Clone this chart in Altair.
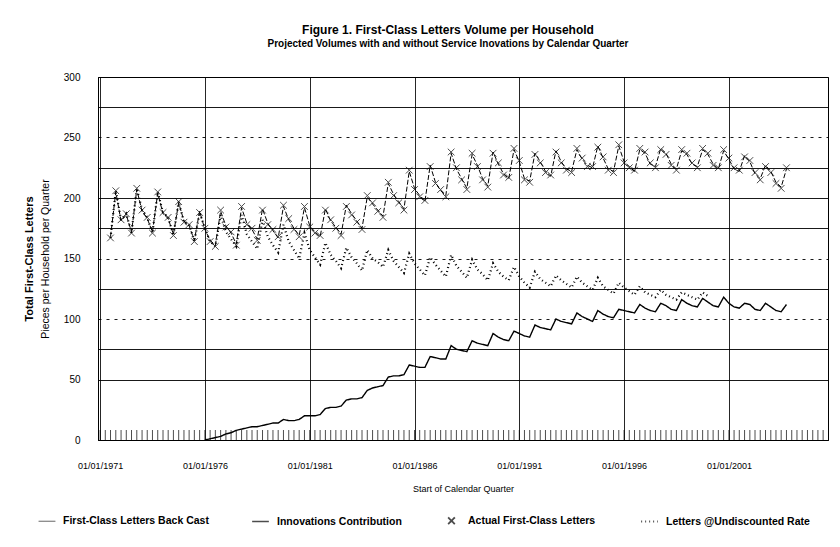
import altair as alt
import pandas as pd

# ---------------- data (quarterly) ----------------
# Actual First-Class Letters, 1971Q3 .. 2003Q4  (one line per calendar year)
actual_start = "1971-07-01"
actual = [
    167, 206,
    182, 187, 171, 208,
    190, 184, 171, 205,
    188, 184, 169, 197,
    180, 178, 164, 188,
    175, 164, 160, 190,
    176, 172, 161, 193,
    178, 175, 165, 190,
    178, 174, 168, 194,
    183, 174, 168, 193,
    176, 171, 169, 190,
    182, 175, 169, 193,
    186, 180, 174, 202,
    196, 189, 184, 213,
    202, 196, 190, 223,
    207, 201, 198, 226,
    212, 207, 201, 238,
    225, 215, 207, 237,
    226, 215, 209, 237,
    229, 219, 217, 241,
    231, 215, 213, 236,
    229, 221, 219, 238,
    229, 223, 221, 241,
    233, 226, 226, 242,
    234, 223, 221, 244,
    229, 225, 223, 241,
    238, 229, 225, 240,
    236, 227, 223, 240,
    237, 229, 225, 241,
    237, 227, 225, 240,
    233, 225, 223, 234,
    231, 221, 215, 226,
    221, 212, 208, 225,
]
# First-Class Letters Back Cast, 1971Q3 .. 2003Q4
backcast_start = "1971-07-01"
backcast = [
    168, 205,
    181, 186, 172, 207,
    189, 183, 172, 204,
    187, 183, 170, 196,
    181, 177, 165, 189,
    174, 165, 161, 189,
    177, 171, 162, 192,
    179, 174, 166, 191,
    179, 173, 167, 193,
    182, 175, 169, 192,
    177, 172, 168, 191,
    181, 176, 170, 194,
    187, 181, 175, 201,
    195, 190, 185, 212,
    203, 197, 191, 222,
    208, 202, 197, 227,
    213, 206, 202, 237,
    224, 216, 208, 236,
    227, 216, 210, 238,
    228, 220, 216, 240,
    230, 216, 214, 237,
    230, 222, 218, 239,
    230, 224, 222, 240,
    232, 227, 225, 243,
    233, 224, 222, 243,
    230, 226, 222, 240,
    237, 228, 226, 241,
    237, 228, 224, 239,
    236, 228, 226, 240,
    236, 228, 224, 239,
    232, 224, 222, 235,
    230, 220, 216, 227,
    222, 213, 209, 224,
]
# Letters @Undiscounted Rate, 1971Q3 .. 2000Q1
undisc_start = "1971-07-01"
undisc = [
    167, 206,
    182, 187, 171, 208,
    190, 184, 171, 205,
    188, 184, 169, 197,
    180, 178, 164, 188,
    175, 164, 160, 186,
    172, 166, 160, 186,
    170, 164, 158, 182,
    168, 161, 155, 178,
    164, 157, 150, 171,
    157, 151, 145, 163,
    153, 148, 142, 159,
    151, 146, 140, 157,
    150, 147, 143, 157,
    148, 143, 138, 154,
    146, 141, 136, 151,
    145, 140, 135, 153,
    144, 139, 134, 149,
    141, 137, 132, 146,
    139, 135, 132, 143,
    135, 130, 126, 139,
    133, 130, 127, 136,
    132, 129, 126, 135,
    130, 127, 124, 134,
    127, 124, 121, 130,
    126, 123, 120, 127,
    122, 120, 118, 124,
    120, 118, 116, 122,
    120, 118, 116, 122,
    119,
]
# Innovations Contribution, 1976Q1 .. 2003Q4
innov_start = "1976-01-01"
innov = [
    0, 1, 2, 3,
    5, 6, 8, 9,
    10, 11, 11, 12,
    13, 14, 14, 17,
    16, 16, 17, 20,
    20, 20, 21, 26,
    27, 27, 28, 33,
    34, 34, 35, 41,
    43, 44, 45, 52,
    53, 53, 54, 62,
    61, 60, 60, 69,
    68, 67, 67, 78,
    75, 74, 73, 82,
    80, 79, 78, 88,
    85, 83, 82, 90,
    88, 86, 85, 95,
    93, 92, 91, 100,
    98, 97, 96, 105,
    102, 100, 98, 107,
    104, 102, 101, 108,
    107, 106, 105, 112,
    109, 107, 106, 113,
    111, 108, 107, 116,
    113, 111, 110, 117,
    114, 111, 110, 118,
    113, 110, 109, 113,
    112, 108, 107, 113,
    110, 107, 106, 112,
]

series_names = [
    "First-Class Letters Back Cast",
    "Innovations Contribution",
    "Actual First-Class Letters",
    "Letters @Undiscounted Rate",
]
x_label_years = [1971, 1976, 1981, 1986, 1991, 1996, 2001]
y_grid_values = [0, 25, 50, 75, 100, 125, 150, 175, 200, 225, 250, 275, 300]
tick_first_quarter = "1971-01-01"
tick_quarter_count = 139

title_text = "Figure 1. First-Class Letters Volume per Household"
subtitle_text = "Projected Volumes with and without Service Inovations by Calendar Quarter"
x_title = "Start of Calendar Quarter"
y_title_bold = "Total First-Class Letters"
y_title_plain = "Pieces per Household per Quarter"


def quarters(start, n):
    return list(pd.date_range(start, periods=n, freq="QS").strftime("%Y-%m-%d"))


def frame(start, values, name):
    return pd.DataFrame({"date": quarters(start, len(values)), "value": values, "series": name})


df_back = frame(backcast_start, backcast, series_names[0])
df_lines = pd.concat([frame(innov_start, innov, series_names[1]),
                      frame(undisc_start, undisc, series_names[3])], ignore_index=True)
df_actual = frame(actual_start, actual, series_names[2])
df_ticks = pd.DataFrame({"date": quarters(tick_first_quarter, tick_quarter_count)})

FONT = "Liberation Sans"
XPATH = "M-0.4,-0.4L0.4,0.4M-0.4,0.4L0.4,-0.4"

x_scale = alt.Scale(
    type="utc",
    domain=[alt.DateTime(year=1970, month=11, date=25, utc=True),
            alt.DateTime(year=2005, month=9, date=24, utc=True)],
)
y_scale = alt.Scale(domain=[0, 300], nice=False, zero=True)

x_axis = alt.Axis(
    values=[alt.DateTime(year=y, month=1, date=1, utc=True) for y in x_label_years],
    labelExpr="utcFormat(datum.value, '%m/%d/%Y')",
    ticks=False, labelPadding=21, labelFontSize=9, labelFont=FONT,
    grid=True, gridColor="black", gridWidth=1, gridOpacity=0.85,
    domainColor="black", title=x_title, titleFont=FONT, titleFontSize=9,
    titleFontWeight="normal", titlePadding=14,
)

y_axis_main = alt.Axis(
    values=y_grid_values,
    labelExpr="datum.value % 50 == 0 ? datum.label : ''",
    ticks=False, labelPadding=18, labelFontSize=10, labelFont=FONT,
    grid=True, gridColor="black", gridWidth=1,
    gridDash={"condition": {"test": "datum.value == 100 || datum.value == 150 || datum.value == 250",
                            "value": [3, 5]}, "value": []},
    gridOpacity={"condition": {"test": "datum.value == 25", "value": 0}, "value": 0.9},
    domainColor="black", title=y_title_plain, titleFont=FONT, titleFontSize=10.5,
    titleFontWeight="normal", titlePadding=13,
)

y_axis_bold = alt.Axis(
    orient="left", labels=False, ticks=False, domain=False, grid=False,
    title=y_title_bold, titleFont=FONT, titleFontSize=11, titleFontWeight="bold",
    titlePadding=64,
)

back_layer = alt.Chart(df_back).mark_line(
    color="black", strokeWidth=1, strokeDash=[5, 2]
).encode(
    x=alt.X("date:T", scale=x_scale, axis=x_axis),
    y=alt.Y("value:Q", scale=y_scale, axis=y_axis_main),
)

lines_layer = alt.Chart(df_lines).mark_line(color="black").encode(
    x=alt.X("date:T", scale=x_scale),
    y=alt.Y("value:Q", scale=y_scale, axis=None),
    strokeDash=alt.StrokeDash(
        "series:N",
        scale=alt.Scale(domain=series_names, range=[[1, 0], [1, 0], [1, 0], [1, 3]]),
        legend=alt.Legend(title=None),
    ),
    strokeWidth=alt.StrokeWidth(
        "series:N", scale=alt.Scale(domain=series_names, range=[1, 2.2, 1, 0.8]), legend=None
    ),
)

points_layer = alt.Chart(df_actual).mark_point(
    color="black", strokeWidth=1, size=280, filled=False
).encode(
    x=alt.X("date:T", scale=x_scale),
    y=alt.Y("value:Q", scale=y_scale, axis=None),
    shape=alt.Shape(
        "series:N",
        scale=alt.Scale(domain=series_names, range=["stroke", "stroke", XPATH, "stroke"]),
        legend=alt.Legend(title=None),
    ),
)

ticks_layer = alt.Chart(df_ticks).mark_tick(
    color="black", orient="vertical", size=10, thickness=1, yOffset=-5
).encode(
    x=alt.X("date:T", scale=x_scale),
    y=alt.Y(datum=0, type="quantitative", scale=y_scale, axis=y_axis_bold),
)

chart = alt.layer(back_layer, lines_layer, points_layer, ticks_layer).resolve_axis(
    y="independent"
).properties(
    width=730,
    height=363,
    autosize=alt.AutoSizeParams(type="none"),
    padding={"left": 98, "top": 77, "right": 12, "bottom": 107},
    title=alt.TitleParams(
        text=title_text, subtitle=subtitle_text, anchor="middle", frame="group",
        font=FONT, fontSize=12, fontWeight="bold", color="black",
        subtitleFont=FONT, subtitleFontSize=10, subtitleFontWeight="bold",
        subtitleColor="black", subtitlePadding=2, offset=22, dx=-15,
    ),
).configure_view(
    stroke="black", strokeWidth=1
).configure_axis(
    labelColor="black", titleColor="black"
).configure_legend(
    orient="none", legendX=-60, legendY=434, direction="horizontal",
    labelFont=FONT, labelFontSize=10.5, labelFontWeight="bold", labelColor="black",
    symbolStrokeColor="black", symbolFillColor="transparent", symbolSize=280,
    symbolStrokeWidth=1, columnPadding=40, labelOffset=7,
)

chart.save("out.html", embed_options={"renderer": "svg", "actions": False})
